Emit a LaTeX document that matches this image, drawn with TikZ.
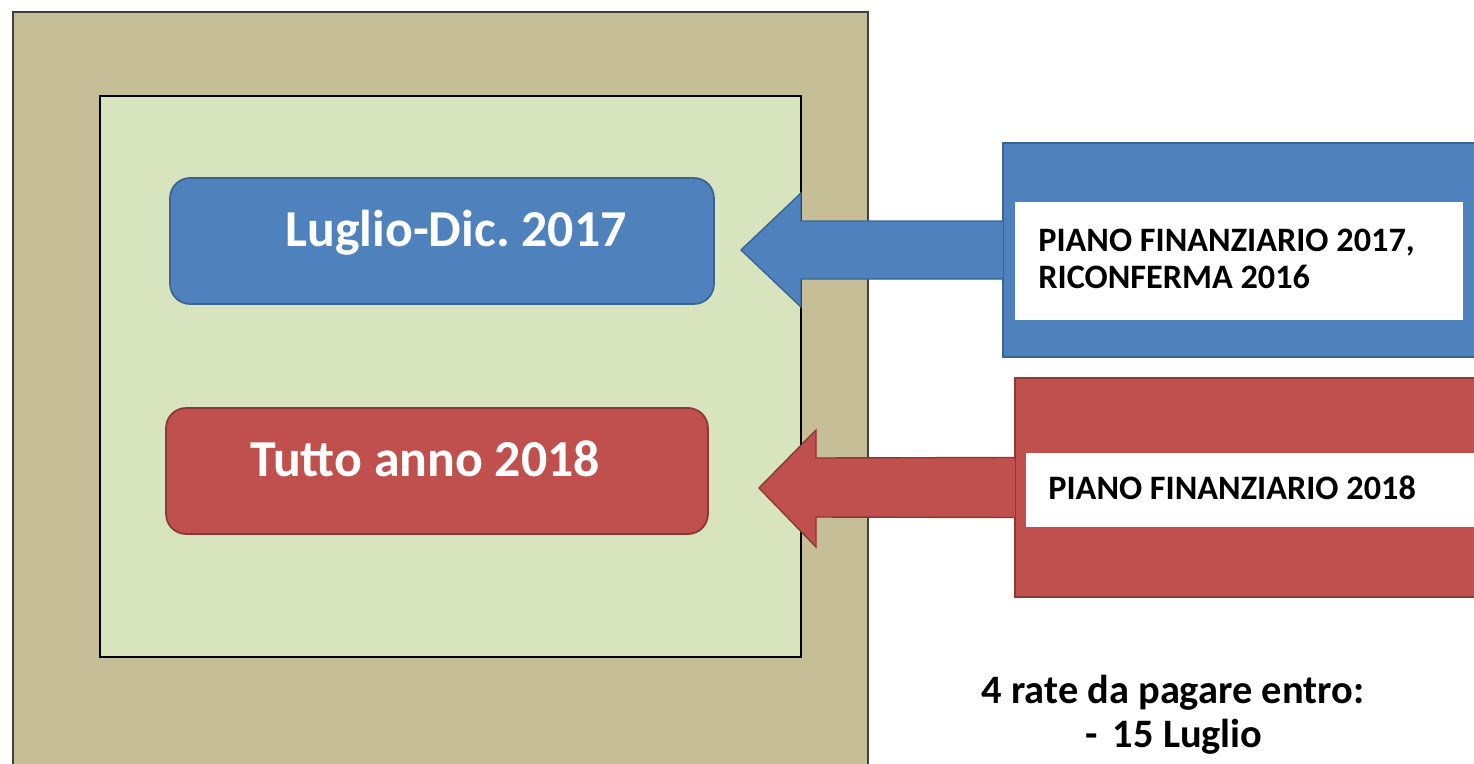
\documentclass[tikz,border=0pt]{standalone}
\usepackage{fontspec}
\setmainfont{Carlito}
\usetikzlibrary{calc}
\frenchspacing

\definecolor{tanbg}{HTML}{C6BE97}
\definecolor{greenbg}{HTML}{D7E4BD}
\definecolor{bluefill}{HTML}{4F81BD}
\definecolor{blueline}{HTML}{3A6593}
\definecolor{redfill}{HTML}{C0504D}
\definecolor{redline}{HTML}{8C3836}

\tikzset{
  periodbox/.style={rectangle, rounded corners=0.4cm, minimum width=10.88cm, minimum height=2.52cm, line width=1pt, inner sep=0pt},
  periodtext/.style={text=white, font=\bfseries\fontsize{29.5}{34}\selectfont, anchor=base, inner sep=0pt},
  planbox/.style={rectangle, minimum width=9.8cm, inner sep=0pt, line width=1pt},
  whitebox/.style={rectangle, fill=white, inner sep=0pt, anchor=north west},
  plantext/.style={font=\bfseries\fontsize{19.5}{21}\selectfont, anchor=base west, inner sep=0pt},
  ratetext/.style={font=\bfseries\fontsize{23}{26}\selectfont, inner sep=0pt}
}

\begin{document}
\begin{tikzpicture}[x=0.02cm, y=-0.02cm]
      \useasboundingbox (0,0) rectangle (1474,764);
      \clip (0,0) rectangle (1474,764);
      % frames
      \filldraw[fill=tanbg, draw=black!75, line width=1pt] (13,12) rectangle (868,790);
      \filldraw[fill=greenbg, draw=black, line width=0.9pt] (100,96) rectangle (801,657);

      % periods
      \node[periodbox, fill=bluefill, draw=blueline] (luglio) at (442,241) {};
      \node[periodtext] (luglioT) at (456,246) {Luglio-Dic. 2017};
      \node[periodbox, fill=redfill, draw=redline, minimum width=10.84cm] (tutto) at (437,471) {};
      \node[periodtext] (tuttoT) at (425,476) {Tutto anno 2018};

      % plan boxes
      \node[planbox, fill=bluefill, draw=blueline, minimum height=4.28cm] (pf17) at (1248,250) {};
      \node[planbox, fill=redfill, draw=redline, minimum height=4.38cm] (pf18) at (1260,487.5) {};

      % arrows
      \coordinate (tip17) at (741,250);
      \coordinate (tip18) at (759,488);
      \filldraw[fill=bluefill, draw=blueline, line width=0.8pt] ($(pf17.west)+(0,-29)$) -- (801,221) -- (801,193) -- (tip17)
            -- (801,307) -- (801,279) -- ($(pf17.west)+(0,29)$);
      \filldraw[fill=redfill, draw=redline, line width=0.8pt] ($(pf18.west)+(0,-30)$) -- (816,458) -- (816,430) -- (tip18)
            -- (816,547) -- (816,517) -- ($(pf18.west)+(0,30)$);
      \fill[bluefill] ($(pf17.west)+(-1,-28)$) rectangle ($(pf17.west)+(1,28)$);
      \fill[redfill] ($(pf18.west)+(-1,-29)$) rectangle ($(pf18.west)+(1,29)$);

      \node[whitebox, minimum width=8.96cm, minimum height=2.36cm] (w17) at (1015,202) {};
      \node[whitebox, minimum width=9.6cm, minimum height=1.48cm] (w18) at (1026,453) {};
      \node[plantext] (pf17a) at (1038,251) {PIANO FINANZIARIO 2017,};
      \node[plantext] (pf17b) at (1038,288) {RICONFERMA 2016};
      \node[plantext] (pf18a) at (1048,499) {PIANO FINANZIARIO 2018};

      % rates
      \node[ratetext, anchor=base] (rate) at (1173,703) {4 rate da pagare entro:};
      \node[ratetext, anchor=base west] (date1) at (1085,747) {-\hspace{0.15em} 15 Luglio};
\end{tikzpicture}
\end{document}
